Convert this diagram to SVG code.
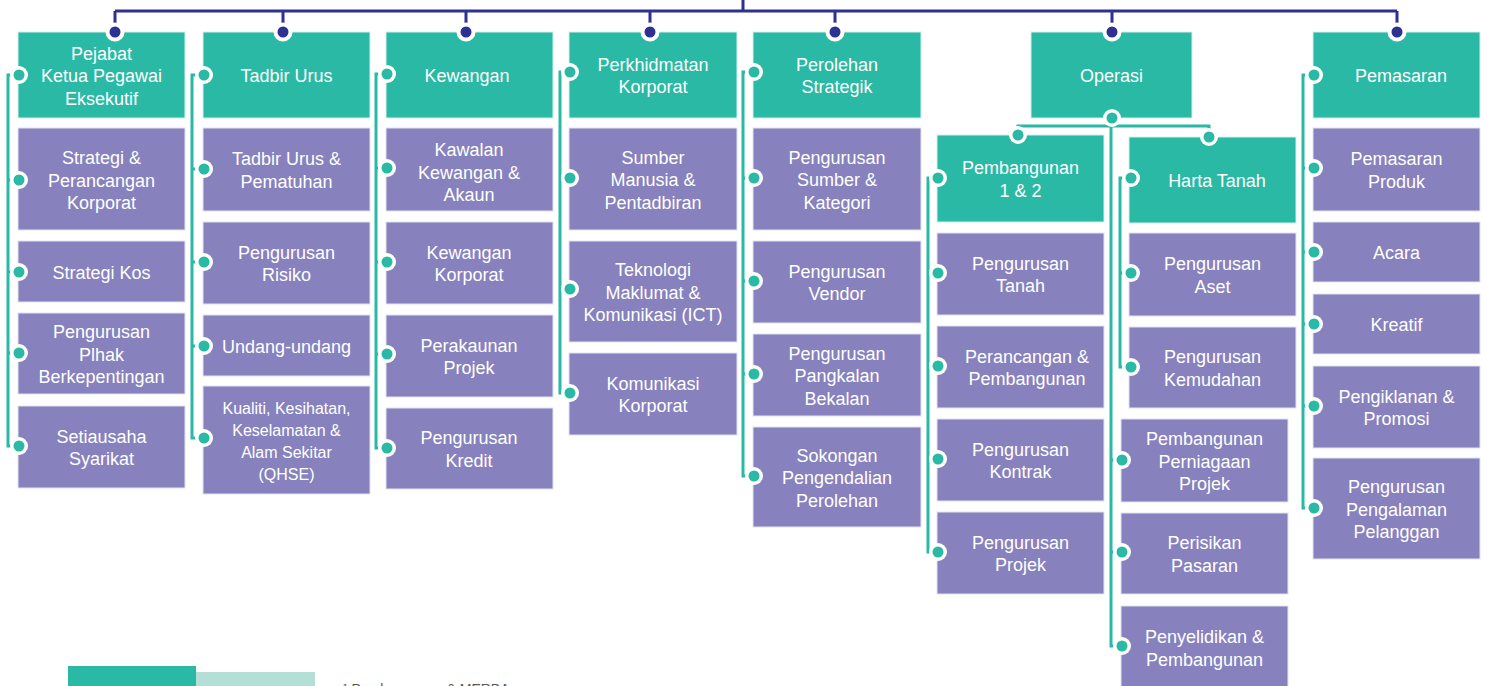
<svg xmlns="http://www.w3.org/2000/svg" xmlns:xlink="http://www.w3.org/1999/xlink" width="1487" height="686" viewBox="0 0 1487 686">
<style>
.h{fill:#29B9A5;stroke:#D6F0EC;stroke-width:1}
.s{fill:#8782BD;stroke:#E2E1F1;stroke-width:1}
text{font-family:"Liberation Sans",Arial,sans-serif;font-size:18px;fill:#FFFFFF;text-anchor:middle}
.sm{font-size:16px}
.nv{fill:none;stroke:#2E3192;stroke-width:3}
.tl{fill:none;stroke:#29B9A5;stroke-width:3}
.foot{font-size:14px;fill:#555555;text-anchor:start}
</style>
<defs>
<g id="tdot"><circle r="9" fill="#FFFFFF"/><circle r="5.5" fill="#29B9A5"/></g>
<g id="ndot"><circle r="9.5" fill="#FFFFFF"/><circle r="5.5" fill="#2E3192"/></g>
</defs>
<rect width="1487" height="686" fill="#FFFFFF"/>

<g id="col1">
<g id="n-pejabat"><rect class="h" x="18" y="32" width="167" height="86"/><text x="101.5" y="59.5">Pejabat</text><text x="101.5" y="82">Ketua Pegawai</text><text x="101.5" y="104.5">Eksekutif</text></g>
<g id="n-strategi-perancangan"><rect class="s" x="18" y="128" width="167" height="102"/><text x="101.5" y="164">Strategi &amp;</text><text x="101.5" y="186.5">Perancangan</text><text x="101.5" y="209">Korporat</text></g>
<g id="n-strategi-kos"><rect class="s" x="18" y="241" width="167" height="61"/><text x="101.5" y="278.5">Strategi Kos</text></g>
<g id="n-plhak"><rect class="s" x="18" y="313" width="167" height="81"/><text x="101.5" y="338">Pengurusan</text><text x="101.5" y="360.5">Plhak</text><text x="101.5" y="383">Berkepentingan</text></g>
<g id="n-setiausaha"><rect class="s" x="18" y="406" width="167" height="82"/><text x="101.5" y="442.75">Setiausaha</text><text x="101.5" y="465.25">Syarikat</text></g>
</g>

<g id="col2">
<g id="n-tadbir"><rect class="h" x="203" y="32" width="167" height="86"/><text x="286.5" y="82">Tadbir Urus</text></g>
<g id="n-tadbir-pematuhan"><rect class="s" x="203" y="128" width="167" height="83"/><text x="286.5" y="165.25">Tadbir Urus &amp;</text><text x="286.5" y="187.75">Pematuhan</text></g>
<g id="n-risiko"><rect class="s" x="203" y="222" width="167" height="82"/><text x="286.5" y="258.75">Pengurusan</text><text x="286.5" y="281.25">Risiko</text></g>
<g id="n-undang"><rect class="s" x="203" y="315" width="167" height="61"/><text x="286.5" y="352.5">Undang-undang</text></g>
<g id="n-qhse"><rect class="s" x="203" y="386" width="167" height="108"/><text class="sm" x="286.5" y="414">Kualiti, Kesihatan,</text><text class="sm" x="286.5" y="436">Keselamatan &amp;</text><text class="sm" x="286.5" y="458">Alam Sekitar</text><text class="sm" x="286.5" y="480">(QHSE)</text></g>
</g>

<g id="col3">
<g id="n-kewangan"><rect class="h" x="386" y="32" width="167" height="86"/><text x="467" y="82">Kewangan</text></g>
<g id="n-kawalan"><rect class="s" x="386" y="128" width="167" height="83"/><text x="469" y="156">Kawalan</text><text x="469" y="178.5">Kewangan &amp;</text><text x="469" y="201">Akaun</text></g>
<g id="n-kewangan-korporat"><rect class="s" x="386" y="222" width="167" height="82"/><text x="469" y="258.75">Kewangan</text><text x="469" y="281.25">Korporat</text></g>
<g id="n-perakaunan"><rect class="s" x="386" y="315" width="167" height="82"/><text x="469" y="351.75">Perakaunan</text><text x="469" y="374.25">Projek</text></g>
<g id="n-kredit"><rect class="s" x="386" y="408" width="167" height="81"/><text x="469" y="444.25">Pengurusan</text><text x="469" y="466.75">Kredit</text></g>
</g>

<g id="col4">
<g id="n-perkhidmatan"><rect class="h" x="569" y="32" width="168" height="86"/><text x="653" y="70.75">Perkhidmatan</text><text x="653" y="93.25">Korporat</text></g>
<g id="n-sumber-manusia"><rect class="s" x="569" y="128" width="168" height="102"/><text x="653" y="163.5">Sumber</text><text x="653" y="186">Manusia &amp;</text><text x="653" y="208.5">Pentadbiran</text></g>
<g id="n-ict"><rect class="s" x="569" y="241" width="168" height="101"/><text x="653" y="276">Teknologi</text><text x="653" y="298.5">Maklumat &amp;</text><text x="653" y="321">Komunikasi (ICT)</text></g>
<g id="n-komunikasi"><rect class="s" x="569" y="353" width="168" height="82"/><text x="653" y="389.75">Komunikasi</text><text x="653" y="412.25">Korporat</text></g>
</g>

<g id="col5">
<g id="n-perolehan"><rect class="h" x="753" y="32" width="168" height="86"/><text x="837" y="70.75">Perolehan</text><text x="837" y="93.25">Strategik</text></g>
<g id="n-sumber-kategori"><rect class="s" x="753" y="128" width="168" height="102"/><text x="837" y="163.5">Pengurusan</text><text x="837" y="186">Sumber &amp;</text><text x="837" y="208.5">Kategori</text></g>
<g id="n-vendor"><rect class="s" x="753" y="241" width="168" height="82"/><text x="837" y="277.75">Pengurusan</text><text x="837" y="300.25">Vendor</text></g>
<g id="n-pangkalan"><rect class="s" x="753" y="334" width="168" height="82"/><text x="837" y="359.5">Pengurusan</text><text x="837" y="382">Pangkalan</text><text x="837" y="404.5">Bekalan</text></g>
<g id="n-sokongan"><rect class="s" x="753" y="427" width="168" height="100"/><text x="837" y="461.5">Sokongan</text><text x="837" y="484">Pengendalian</text><text x="837" y="506.5">Perolehan</text></g>
</g>

<g id="col6">
<g id="n-operasi"><rect class="h" x="1031" y="32" width="161" height="86"/><text x="1111.5" y="82">Operasi</text></g>
<g id="n-pembangunan12"><rect class="h" x="937" y="135" width="167" height="87"/><text x="1020.5" y="174.25">Pembangunan</text><text x="1020.5" y="196.75">1 &amp; 2</text></g>
<g id="n-harta"><rect class="h" x="1129" y="137" width="167" height="86"/><text x="1217" y="187">Harta Tanah</text></g>
<g id="n-tanah"><rect class="s" x="937" y="233" width="167" height="82"/><text x="1020.5" y="269.75">Pengurusan</text><text x="1020.5" y="292.25">Tanah</text></g>
<g id="n-perancangan"><rect class="s" x="937" y="326" width="167" height="82"/><text x="1027" y="362.75">Perancangan &amp;</text><text x="1027" y="385.25">Pembangunan</text></g>
<g id="n-kontrak"><rect class="s" x="937" y="419" width="167" height="82"/><text x="1020.5" y="455.75">Pengurusan</text><text x="1020.5" y="478.25">Kontrak</text></g>
<g id="n-projek"><rect class="s" x="937" y="512" width="167" height="82"/><text x="1020.5" y="548.75">Pengurusan</text><text x="1020.5" y="571.25">Projek</text></g>
<g id="n-aset"><rect class="s" x="1129" y="233" width="167" height="83"/><text x="1212.5" y="270.25">Pengurusan</text><text x="1212.5" y="292.75">Aset</text></g>
<g id="n-kemudahan"><rect class="s" x="1129" y="327" width="167" height="81"/><text x="1212.5" y="363.25">Pengurusan</text><text x="1212.5" y="385.75">Kemudahan</text></g>
<g id="n-ppp"><rect class="s" x="1121" y="419" width="167" height="83"/><text x="1204.5" y="445">Pembangunan</text><text x="1204.5" y="467.5">Perniagaan</text><text x="1204.5" y="490">Projek</text></g>
<g id="n-perisikan"><rect class="s" x="1121" y="513" width="167" height="81"/><text x="1204.5" y="549.25">Perisikan</text><text x="1204.5" y="571.75">Pasaran</text></g>
<g id="n-penyelidikan"><rect class="s" x="1121" y="606" width="167" height="90"/><text x="1204.5" y="643">Penyelidikan &amp;</text><text x="1204.5" y="665.5">Pembangunan</text></g>
</g>

<g id="col7">
<g id="n-pemasaran"><rect class="h" x="1313" y="32" width="167" height="86"/><text x="1401" y="82">Pemasaran</text></g>
<g id="n-produk"><rect class="s" x="1313" y="128" width="167" height="83"/><text x="1396.5" y="165.25">Pemasaran</text><text x="1396.5" y="187.75">Produk</text></g>
<g id="n-acara"><rect class="s" x="1313" y="222" width="167" height="60"/><text x="1396.5" y="259">Acara</text></g>
<g id="n-kreatif"><rect class="s" x="1313" y="294" width="167" height="60"/><text x="1396.5" y="331">Kreatif</text></g>
<g id="n-pengiklanan"><rect class="s" x="1313" y="366" width="167" height="82"/><text x="1396.5" y="402.75">Pengiklanan &amp;</text><text x="1396.5" y="425.25">Promosi</text></g>
<g id="n-pengalaman"><rect class="s" x="1313" y="458" width="167" height="101"/><text x="1396.5" y="493">Pengurusan</text><text x="1396.5" y="515.5">Pengalaman</text><text x="1396.5" y="538">Pelanggan</text></g>
</g>

<g id="connectors">
<path class="nv" d="M743,0V11 M115,11H1397 M115,11V32 M283,11V32 M466,11V32 M650,11V32 M835,11V32 M1112,11V32 M1397,11V32"/>
<path class="tl" d="M19,75H8V446H19 M8,180H19 M8,272H19 M8,353H19"/>
<path class="tl" d="M204,75H192V438H204 M192,169H204 M192,262H204 M192,346H204"/>
<path class="tl" d="M387,74H376V448H387 M376,168H387 M376,262H387 M376,354H387"/>
<path class="tl" d="M570,72H560V393H570 M560,178H570 M560,289H570"/>
<path class="tl" d="M754,72H743V476H754 M743,178H754 M743,281H754 M743,374H754"/>
<path class="tl" d="M1111,118V646H1122 M1111,460H1122 M1111,552H1122 M1018,135V126H1209V137"/>
<path class="tl" d="M938,178H928V552H938 M928,273H938 M928,366H938 M928,459H938"/>
<path class="tl" d="M1131,178H1120V367H1131 M1120,273H1131"/>
<path class="tl" d="M1314,75H1303V508H1314 M1303,168H1314 M1303,252H1314 M1303,324H1314 M1303,406H1314"/>
<use xlink:href="#ndot" x="115" y="32"/><use xlink:href="#ndot" x="283" y="32"/><use xlink:href="#ndot" x="466" y="32"/><use xlink:href="#ndot" x="650" y="32"/><use xlink:href="#ndot" x="835" y="32"/><use xlink:href="#ndot" x="1112" y="32"/><use xlink:href="#ndot" x="1397" y="32"/>
<use xlink:href="#tdot" x="19" y="75"/><use xlink:href="#tdot" x="19" y="180"/><use xlink:href="#tdot" x="19" y="272"/><use xlink:href="#tdot" x="19" y="353"/><use xlink:href="#tdot" x="19" y="446"/>
<use xlink:href="#tdot" x="204" y="75"/><use xlink:href="#tdot" x="204" y="169"/><use xlink:href="#tdot" x="204" y="262"/><use xlink:href="#tdot" x="204" y="346"/><use xlink:href="#tdot" x="204" y="438"/>
<use xlink:href="#tdot" x="387" y="74"/><use xlink:href="#tdot" x="387" y="168"/><use xlink:href="#tdot" x="387" y="262"/><use xlink:href="#tdot" x="387" y="354"/><use xlink:href="#tdot" x="387" y="448"/>
<use xlink:href="#tdot" x="570" y="72"/><use xlink:href="#tdot" x="570" y="178"/><use xlink:href="#tdot" x="570" y="289"/><use xlink:href="#tdot" x="570" y="393"/>
<use xlink:href="#tdot" x="754" y="72"/><use xlink:href="#tdot" x="754" y="178"/><use xlink:href="#tdot" x="754" y="281"/><use xlink:href="#tdot" x="754" y="374"/><use xlink:href="#tdot" x="754" y="476"/>
<use xlink:href="#tdot" x="1112" y="118"/><use xlink:href="#tdot" x="1018" y="135"/><use xlink:href="#tdot" x="1209" y="137"/>
<use xlink:href="#tdot" x="938" y="178"/><use xlink:href="#tdot" x="938" y="273"/><use xlink:href="#tdot" x="938" y="366"/><use xlink:href="#tdot" x="938" y="459"/><use xlink:href="#tdot" x="938" y="552"/>
<use xlink:href="#tdot" x="1131" y="178"/><use xlink:href="#tdot" x="1131" y="273"/><use xlink:href="#tdot" x="1131" y="367"/>
<use xlink:href="#tdot" x="1122" y="460"/><use xlink:href="#tdot" x="1122" y="552"/><use xlink:href="#tdot" x="1122" y="646"/>
<use xlink:href="#tdot" x="1314" y="75"/><use xlink:href="#tdot" x="1314" y="168"/><use xlink:href="#tdot" x="1314" y="252"/><use xlink:href="#tdot" x="1314" y="324"/><use xlink:href="#tdot" x="1314" y="406"/><use xlink:href="#tdot" x="1314" y="508"/>
</g>

<g id="footer">
<rect x="68" y="666" width="128" height="20" fill="#29B9A5"/>
<rect x="196" y="672" width="119" height="14" fill="#B3DFD6"/>
<text class="foot" x="343" y="694">¹ Pembangunan &amp; MERBA</text>
</g>
</svg>
